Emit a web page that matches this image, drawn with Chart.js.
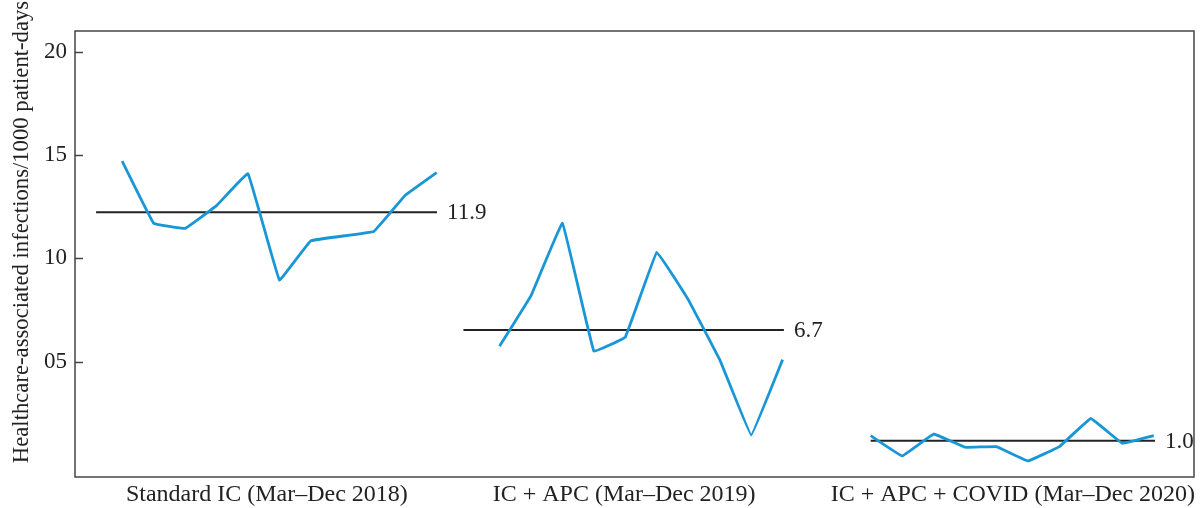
<!DOCTYPE html>
<html>
<head>
<meta charset="utf-8">
<script src="https://cdn.jsdelivr.net/npm/chart.js@4/dist/chart.umd.min.js"></script>
<style>
html,body{margin:0;padding:0;background:#fff;}
#wrap{width:1200px;height:508px;position:relative;}
</style>
</head>
<body>
<div id="wrap"><canvas id="c" width="1200" height="508"></canvas></div>
<script>
// ---- data ----
const groupNames = ["Standard IC (Mar\u2013Dec 2018)", "IC + APC (Mar\u2013Dec 2019)", "IC + APC + COVID (Mar\u2013Dec 2020)"];
const groupCenters = [6.1, 17.46, 29.82];

const g1x = [1.5, 2.5, 3.5, 4.5, 5.5, 6.5, 7.5, 9.5, 10.5, 11.5];
const g1y = [14.7, 11.7, 11.45, 12.55, 14.1, 8.95, 10.85, 11.3, 13.05, 14.15];
const g2x = [13.5, 14.5, 15.5, 16.5, 17.5, 18.5, 19.5, 20.5, 21.5, 22.5];
const g2y = [5.75, 8.2, 11.7, 5.5, 6.2, 10.3, 8.0, 5.1, 1.45, 5.1];
const g3x = [25.3, 26.3, 27.3, 28.3, 29.3, 30.3, 31.3, 32.3, 33.3, 34.3];
const g3y = [1.42, 0.44, 1.5, 0.86, 0.89, 0.2, 0.89, 2.25, 1.05, 1.42];

const meanLabels = ["11.9", "6.7", "1.0"];
const meanLevels = [12.23, 6.53, 1.18];
const meanStart = [0.67, 12.35, 25.3];
const meanEnd = [11.51, 22.54, 34.34];

const yTicks = [5, 10, 15, 20];
const yTitle = "Healthcare-associated infections/1000 patient-days";

// ---- build ----
const BLUE = '#1996d6';
const INK = '#222222';
const FONT = "'Liberation Serif', 'Times New Roman', serif";

function pts(xs, ys){ return xs.map((x,i)=>({x:x, y:ys[i]})); }

const datasets = [];
[[g1x,g1y],[g2x,g2y],[g3x,g3y]].forEach(([xs,ys])=>{
  datasets.push({type:'line', data:pts(xs,ys), borderColor:BLUE, borderWidth:2.8, tension:0.05,
    borderJoinStyle:'round', borderCapStyle:'butt', pointRadius:0, fill:false});
});
meanLevels.forEach((m,i)=>{
  datasets.push({type:'line', data:[{x:meanStart[i], y:m},{x:meanEnd[i], y:m}], borderColor:INK, borderWidth:2,
    pointRadius:0, fill:false, order:1});
});

const decor = {
  id:'decor',
  afterDatasetsDraw(chart){
    const ctx = chart.ctx, a = chart.chartArea;
    const xs = chart.scales.x, ys = chart.scales.y;
    ctx.save();
    // box
    ctx.strokeStyle = '#444'; ctx.lineWidth = 1.5;
    ctx.strokeRect(a.left, a.top, a.right - a.left, a.bottom - a.top);
    // inward y ticks
    yTicks.forEach(v=>{
      const y = Math.round(ys.getPixelForValue(v)) + 0.5;
      ctx.beginPath(); ctx.moveTo(a.left, y); ctx.lineTo(a.left + 8, y); ctx.stroke();
    });
    // mean labels
    ctx.fillStyle = INK; ctx.font = "23px " + FONT; ctx.textBaseline = 'middle'; ctx.textAlign = 'left';
    meanLevels.forEach((m,i)=>{
      ctx.fillText(meanLabels[i], xs.getPixelForValue(meanEnd[i]) + 10, ys.getPixelForValue(m) + 1);
    });
    // y title
    ctx.translate(22, 232);
    ctx.rotate(-Math.PI/2);
    ctx.textAlign = 'center';
    ctx.font = "22.7px " + FONT;
    ctx.fillText(yTitle, 0, 0);
    ctx.restore();
  }
};

new Chart(document.getElementById('c'), {
  type:'line',
  data:{datasets},
  options:{
    responsive:false, animation:false, devicePixelRatio:1,
    layout:{padding:{top:31, right:6, left:0, bottom:0}},
    plugins:{legend:{display:false}, tooltip:{enabled:false}},
    scales:{
      x:{type:'linear', min:0, max:35.58,
        grid:{display:false, drawTicks:false}, border:{display:false},
        afterBuildTicks(s){ s.ticks = groupCenters.map(v=>({value:v})); },
        afterFit(s){ s.height = 31; },
        ticks:{autoSkip:false, maxRotation:0, padding:3, color:INK, font:{family:FONT, size:24},
          callback(v, i){ return groupNames[i]; }}
      },
      y:{min:-0.58, max:21.0,
        grid:{display:false, drawTicks:false}, border:{display:false},
        afterBuildTicks(s){ s.ticks = yTicks.map(v=>({value:v})); },
        afterFit(s){ s.width = 75; },
        ticks:{padding:8, color:INK, font:{family:FONT, size:23},
          callback(v){ return String(v).padStart(2,'0'); }}
      }
    }
  },
  plugins:[decor]
});
</script>
</body>
</html>
